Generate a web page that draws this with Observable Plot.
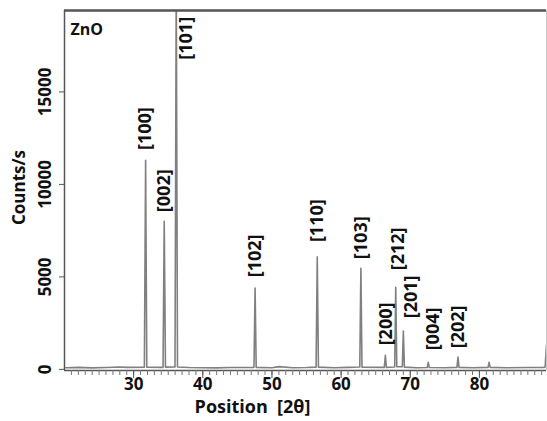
<!DOCTYPE html>
<html>
<head>
<meta charset="utf-8">
<script src="https://cdn.jsdelivr.net/npm/d3@7"></script>
<script src="https://cdn.jsdelivr.net/npm/@observablehq/plot@0.6"></script>
<style>
  html, body { margin: 0; padding: 0; background: #fff; }
  #chart svg { display: block; font-family: "Open Sans", "Noto Sans", sans-serif; }
</style>
</head>
<body>
<div id="chart"></div>
<script>
// Diffraction profile (2θ in degrees, counts/s)
const twoTheta = [20.2, 22, 24, 26, 28, 29, 31.55, 31.73, 31.9, 34.25, 34.42, 34.6, 35.98, 36.16, 36.34,
  38, 40, 42, 44, 47.4, 47.56, 47.72, 50, 51, 53, 55, 56.38, 56.55, 56.72, 59, 61, 62.7, 62.86, 63.02,
  66.25, 66.4, 66.55, 67.75, 67.9, 68.05, 68.85, 69.0, 69.15, 71, 72.45, 72.6, 72.75, 75, 76.75, 76.9, 77.05,
  79, 81.25, 81.4, 81.55, 84, 87, 89.3, 89.5, 89.7];
const counts = [90, 110, 80, 100, 130, 110, 120, 11300, 120, 110, 8000, 120, 130, 21000, 130,
  100, 90, 80, 100, 110, 4400, 110, 90, 150, 90, 100, 120, 6080, 120, 90, 110, 130, 5470, 120,
  110, 760, 110, 130, 4440, 140, 140, 2075, 120, 90, 100, 380, 100, 90, 110, 670, 110,
  90, 110, 380, 110, 90, 100, 110, 130, 1300];

// Peak labels (Miller indices) and their anchor positions
const peakLabels = ["[100]", "[002]", "[101]", "[102]", "[110]", "[103]", "[200]", "[212]", "[201]", "[004]", "[202]"];
const labelX = [31.73, 34.43, 37.6, 47.56, 56.55, 62.86, 66.57, 68.2, 70.17, 73.25, 77.0];
const labelY = [11860, 8500, 16740, 4980, 6880, 5960, 1300, 5360, 2760, 1030, 1140];

const xTicks = [30, 40, 50, 60, 70, 80];
const xMinorTicks = d3.range(21, 90);
const yTicks = [0, 5000, 10000, 15000];

const profile = twoTheta.map((t, i) => ({t, c: counts[i]}));
const labels = peakLabels.map((l, i) => ({l, x: labelX[i], y: labelY[i]}));

const xDomain = [20, 89.7];
const yDomain = [-60, 19400];
const bold = {fontWeight: "bold", fill: "#111"};

const chart = Plot.plot({
  width: 547,
  height: 421,
  marginLeft: 64,
  marginRight: 1,
  marginTop: 10,
  marginBottom: 51,
  x: {domain: xDomain, axis: null},
  y: {domain: yDomain, axis: null},
  marks: [
    Plot.line(profile, {x: "t", y: "c", stroke: "#808080", strokeWidth: 1.6, clip: true}),
    // frame
    Plot.ruleX([xDomain[1]], {stroke: "#c8c8c8", strokeWidth: 1}),
    Plot.ruleX([xDomain[0]], {stroke: "#555", strokeWidth: 1.5}),
    Plot.ruleY([yDomain[1]], {stroke: "#555", strokeWidth: 2.5}),
    Plot.ruleY([yDomain[0]], {stroke: "#555", strokeWidth: 1.5}),
    // axes ticks
    Plot.axisX({ticks: xMinorTicks, tickSize: 5, tickFormat: () => "", label: null, stroke: "#777"}),
    Plot.axisX({ticks: xTicks, tickSize: 8, tickFormat: () => "", label: null, stroke: "#555"}),
    Plot.axisY({ticks: yTicks, tickSize: 5, tickFormat: () => "", label: null, stroke: "#555"}),
    // tick labels
    Plot.text(xTicks, {x: d => d, text: d => `${d}`, frameAnchor: "bottom", dy: 19, fontSize: 17, ...bold}),
    Plot.text(yTicks, {y: d => d, text: d => `${d}`, frameAnchor: "left", dx: -19, rotate: -90, textAnchor: "middle", fontSize: 17, ...bold}),
    // axis titles
    Plot.text(["Counts/s"], {frameAnchor: "left", dx: -45, dy: -3, rotate: -90, textAnchor: "middle", fontSize: 17, ...bold}),
    Plot.text(["Position  [2θ]"], {frameAnchor: "bottom", dx: -53, dy: 42, textAnchor: "middle", fontSize: 18, ...bold}),
    Plot.text(["ZnO"], {frameAnchor: "top-left", dx: 6, dy: 13, textAnchor: "start", fontSize: 16, ...bold}),
    // peak labels
    Plot.text(labels, {x: "x", y: "y", text: "l", rotate: -90, textAnchor: "start", fontSize: 18, ...bold})
  ]
});
document.getElementById("chart").appendChild(chart);
</script>
</body>
</html>
